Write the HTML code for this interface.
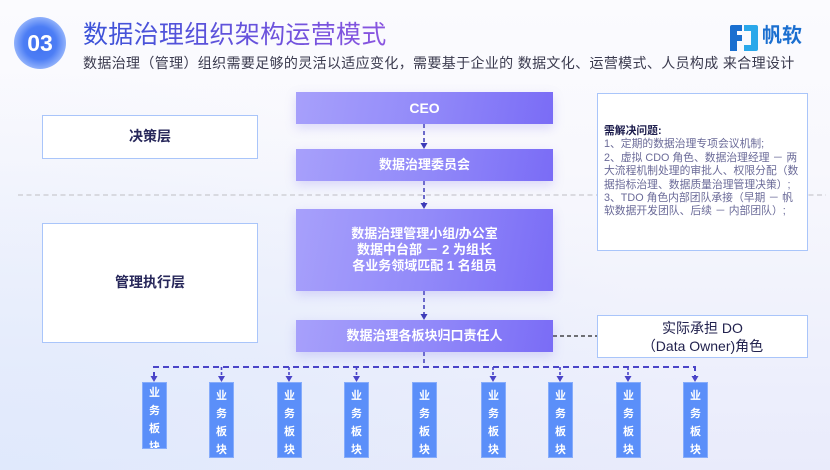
<!DOCTYPE html>
<html><head><meta charset="utf-8">
<style>
*{margin:0;padding:0;box-sizing:border-box}
body{width:830px;height:470px;overflow:hidden;position:relative;font-family:"Liberation Sans","Noto Sans CJK SC",sans-serif;
background:linear-gradient(180deg,#fbfbfe 0%,#f8f8fd 35%,#eef0fc 75%,#e9ebfb 100%);}
.bgl{position:absolute;left:0;top:0;width:830px;height:470px;background:radial-gradient(ellipse at 0% 100%,rgba(220,232,252,0.7),rgba(255,255,255,0) 60%);}
.abs{position:absolute}
.circ{left:14px;top:17px;width:52px;height:52px;border-radius:50%;
background:radial-gradient(circle at 50% 50%,#3f6ff0 0%,#4d7ef5 45%,#8fb0fb 70%,rgba(220,230,255,0.6) 88%,rgba(255,255,255,0) 100%);
color:#fff;font-weight:bold;font-size:23px;text-align:center;line-height:52px;}
.title{left:83px;top:19px;font-size:25px;line-height:32px;letter-spacing:0.3px;white-space:nowrap;
background:linear-gradient(90deg,#3a52d8,#6a52dc 60%,#8a55e0);-webkit-background-clip:text;background-clip:text;color:transparent;}
.sub{left:83px;top:54px;font-size:14px;line-height:18px;color:#3a3a4e;white-space:nowrap;letter-spacing:0.35px}
.logo{left:762px;top:25px;font-size:20px;line-height:22px;color:#1b6fd0;font-weight:bold;}
.pbox{position:absolute;left:296px;width:257px;color:#fff;font-weight:bold;text-align:center;
background:linear-gradient(100deg,#a7a0fb 0%,#928af9 50%,#7a6cf6 100%);box-shadow:0 4px 10px rgba(130,120,240,0.25);}
.wbox{position:absolute;background:#fff;border:1.5px solid #a9c5fa;color:#27275a;font-weight:bold;text-align:center;}
.blk{position:absolute;width:25px;background:#5b8ff9;border:1px solid #86acfb;color:#fff;font-weight:bold;font-size:11px;
text-align:center;overflow:hidden;}
.blk span{display:block;height:18px;line-height:18px}
</style></head><body>
<div class="bgl"></div>
<div class="abs circ">03</div>
<div class="abs title">数据治理组织架构运营模式</div>
<div class="abs sub">数据治理（管理）组织需要足够的灵活以适应变化，需要基于企业的 数据文化、运营模式、人员构成 来合理设计</div>
<svg class="abs" style="left:730px;top:25px" width="28" height="26" viewBox="0 0 28 26">
<path d="M0 2 Q0 0 2 0 L12 0 L12 6 L7 6 L7 10 L12 10 L12 16 L7 16 L7 26 L0 26 Z" fill="#1a6fd0"/>
<path d="M14 0 L26 0 Q28 0 28 2 L28 24 Q28 26 26 26 L14 26 L14 20 L21 20 L21 6 L14 6 Z" fill="#2aa8ea"/>
</svg>
<div class="abs logo">帆软</div>

<svg class="abs" style="left:0;top:0" width="830" height="470">
<line x1="18" y1="195" x2="826" y2="195" stroke="#c9c9cf" stroke-width="1.2" stroke-dasharray="5,3.5"/>
<g stroke="#3d3bb8" stroke-width="1.5" stroke-dasharray="4,3" fill="none">
<line x1="424" y1="124" x2="424" y2="145"/>
<line x1="424" y1="181" x2="424" y2="205"/>
<line x1="424" y1="291" x2="424" y2="316"/>
<line x1="424" y1="352" x2="424" y2="367"/>
</g>
<g fill="#3d3bb8">
<path d="M420.5 143 L427.5 143 L424 149 Z"/>
<path d="M420.5 203 L427.5 203 L424 209 Z"/>
<path d="M420.5 314 L427.5 314 L424 320 Z"/>
</g>
<line x1="553" y1="336" x2="597" y2="336" stroke="#222" stroke-width="1.2" stroke-dasharray="4,3"/>
<g stroke="#4a44c8" stroke-width="2" stroke-dasharray="6,4" fill="none">
<path d="M154 378 L154 367 L695 367 L695 378"/>
</g>
<g stroke="#4a44c8" stroke-width="1.6" stroke-dasharray="3,2" fill="none">
<line x1="221.5" y1="367" x2="221.5" y2="378"/>
<line x1="289" y1="367" x2="289" y2="378"/>
<line x1="356.5" y1="367" x2="356.5" y2="378"/>
<line x1="493" y1="367" x2="493" y2="378"/>
<line x1="560" y1="367" x2="560" y2="378"/>
<line x1="628" y1="367" x2="628" y2="378"/>
</g>
<g fill="#4a44c8">
<path d="M150.5 376 L157.5 376 L154 382 Z"/>
<path d="M218 376 L225 376 L221.5 382 Z"/>
<path d="M285.5 376 L292.5 376 L289 382 Z"/>
<path d="M353 376 L360 376 L356.5 382 Z"/>
<path d="M489.5 376 L496.5 376 L493 382 Z"/>
<path d="M556.5 376 L563.5 376 L560 382 Z"/>
<path d="M624.5 376 L631.5 376 L628 382 Z"/>
<path d="M691.5 376 L698.5 376 L695 382 Z"/>
</g>
</svg>

<div class="pbox" style="top:92px;height:32px;line-height:32px;font-size:14px;">CEO</div>
<div class="pbox" style="top:149px;height:32px;line-height:32px;font-size:13px;">数据治理委员会</div>
<div class="pbox" style="top:209px;height:82px;font-size:13px;line-height:16px;padding-top:17px;">数据治理管理小组/办公室<br>数据中台部 － 2 为组长<br>各业务领域匹配 1 名组员</div>
<div class="pbox" style="top:320px;height:32px;line-height:32px;font-size:13px;">数据治理各板块归口责任人</div>

<div class="wbox" style="left:42px;top:115px;width:216px;height:44px;line-height:41px;font-size:14px;">决策层</div>
<div class="wbox" style="left:42px;top:223px;width:216px;height:120px;line-height:117px;font-size:14px;">管理执行层</div>

<div class="wbox" style="left:597px;top:93px;width:211px;height:158px;text-align:left;font-weight:normal;font-size:10.8px;line-height:13.4px;padding:31px 6px 0 6px;color:#6a6a98;">
<b style="color:#1c1c4c">需解决问题:</b><br>1、定期的数据治理专项会议机制;<br>2、虚拟 CDO 角色、数据治理经理 － 两大流程机制处理的审批人、权限分配（数据指标治理、数据质量治理管理决策）;<br>3、TDO 角色内部团队承接（早期 － 帆软数据开发团队、后续 － 内部团队）;
</div>

<div class="wbox" style="left:597px;top:315px;width:211px;height:43px;font-weight:normal;font-size:14px;line-height:18px;padding-top:3px;color:#22224e;">实际承担 DO<br>（Data Owner)角色</div>

<div class="blk" style="left:142px;top:382px;height:67px;padding-top:1px"><span>业</span><span>务</span><span>板</span><span>块</span></div>
<div class="blk" style="left:209px;top:382px;height:76px;padding-top:4px"><span>业</span><span>务</span><span>板</span><span>块</span></div>
<div class="blk" style="left:277px;top:382px;height:76px;padding-top:4px"><span>业</span><span>务</span><span>板</span><span>块</span></div>
<div class="blk" style="left:344px;top:382px;height:76px;padding-top:4px"><span>业</span><span>务</span><span>板</span><span>块</span></div>
<div class="blk" style="left:412px;top:382px;height:76px;padding-top:4px"><span>业</span><span>务</span><span>板</span><span>块</span></div>
<div class="blk" style="left:481px;top:382px;height:76px;padding-top:4px"><span>业</span><span>务</span><span>板</span><span>块</span></div>
<div class="blk" style="left:548px;top:382px;height:76px;padding-top:4px"><span>业</span><span>务</span><span>板</span><span>块</span></div>
<div class="blk" style="left:616px;top:382px;height:76px;padding-top:4px"><span>业</span><span>务</span><span>板</span><span>块</span></div>
<div class="blk" style="left:683px;top:382px;height:76px;padding-top:4px"><span>业</span><span>务</span><span>板</span><span>块</span></div>
</body></html>
